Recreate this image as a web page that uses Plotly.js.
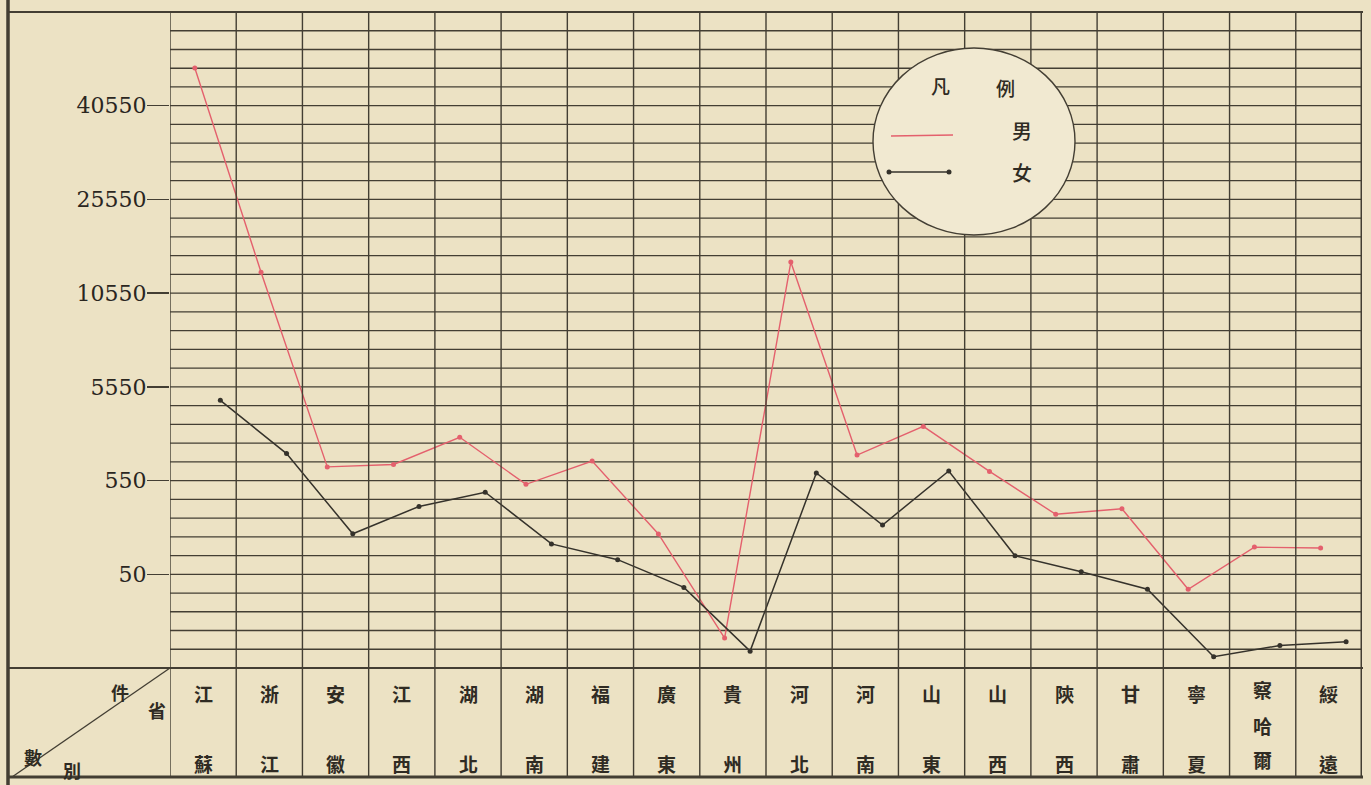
<!DOCTYPE html>
<html>
<head>
<meta charset="utf-8">
<script src="https://cdn.plot.ly/plotly-3.0.1.min.js"></script>
<style>
  html, body { margin: 0; padding: 0; background: #ece2c4; }
  #chart { width: 1371px; height: 785px; }
</style>
</head>
<body>
<div id="chart"></div>
<script>
// ---------------- data ----------------
const categories = ['江蘇','浙江','安徽','江西','湖北','湖南','福建','廣東','貴州','河北','河南','山東','山西','陝西','甘肅','寧夏','察哈爾','綏遠'];
const male   = [46600, 13900, 1280, 1410, 2860, 530, 1590, 265, 16, 15530, 1910, 3440, 1040, 370, 400, 42, 195, 190];
const female = [4830, 1990, 266, 412, 488, 212, 128, 43, 9, 960, 313, 1060, 149, 64, 42, 6, 12, 14];
const tickValues = [50, 550, 5550, 10550, 25550, 40550];
const tickLabels = ['50', '550', '5550', '10550', '25550', '40550'];
const legendTitle = ['凡', '例'];
const seriesNames = ['男', '女'];
const headerChars = ['件', '省', '數', '別'];

// ---------------- scale: each labelled interval spans 5 grid rows ----------------
const breaks = [0].concat(tickValues);
function toU(v) {
  for (let i = 0; i < breaks.length - 1; i++) {
    if (v <= breaks[i + 1]) return 5 * i + 5 * (v - breaks[i]) / (breaks[i + 1] - breaks[i]);
  }
  const n = breaks.length;
  const step = (breaks[n - 1] - breaks[n - 2]) / 5;
  return 5 * (n - 2) + 5 + (v - breaks[n - 1]) / step;
}
const U_MAX = 35;

// ---------------- geometry helpers (pixels -> paper) ----------------
const W = 1371, H = 785;
const PL = 170, PR = 1362, PT = 12, PB = 668;
const px = x => (x - PL) / (PR - PL);
const py = y => (PB - y) / (PB - PT);
const TABLE_BOTTOM = 777;

const ink = '#433e33';
const red = '#e4606d';
const dark = '#35322b';
const idx = categories.map((_, i) => i);

const traces = [
  {
    x: idx.map(i => i - 0.125),
    y: male.map(toU),
    customdata: male,
    name: seriesNames[0],
    mode: 'lines+markers',
    line: { color: red, width: 1.4 },
    marker: { color: red, size: 5 },
    hovertemplate: '%{customdata}<extra>男</extra>'
  },
  {
    x: idx.map(i => i + 0.26),
    y: female.map(toU),
    customdata: female,
    name: seriesNames[1],
    mode: 'lines+markers',
    line: { color: dark, width: 1.5 },
    marker: { color: dark, size: 5 },
    hovertemplate: '%{customdata}<extra>女</extra>'
  }
];

const shapes = [];
const L = (x0, y0, x1, y1, w, extra) => Object.assign({
  type: 'line', xref: 'paper', yref: 'paper',
  x0: px(x0), y0: py(y0), x1: px(x1), y1: py(y1),
  line: { color: ink, width: w }, layer: 'above'
}, extra || {});

// horizontal ruling: one line per grid row
for (let u = 1; u < U_MAX; u++) {
  shapes.push({
    type: 'line', xref: 'paper', yref: 'y',
    x0: 0, x1: 1, y0: u, y1: u,
    line: { color: ink, width: 1.3 }, layer: 'below'
  });
}
// column lines (through the plot and the table)
for (let i = 0; i <= categories.length; i++) {
  shapes.push({
    type: 'line', xref: 'x', yref: 'paper',
    x0: i - 0.5, x1: i - 0.5, y0: py(TABLE_BOTTOM), y1: 1,
    line: { color: ink, width: (i === categories.length) ? 3 : 1.4 },
    layer: 'above'
  });
}
// frame
shapes.push(L(8, PT, PR + 1, PT, 2));
shapes.push(L(8, 0, 8, H, 3.5));
shapes.push(L(8, PB, PR + 1, PB, 2.2));
shapes.push(L(8, TABLE_BOTTOM, PR + 1, TABLE_BOTTOM, 3.2));
shapes.push(L(12, TABLE_BOTTOM, PL, PB, 1.3));

// legend circle
shapes.push({
  type: 'circle', xref: 'paper', yref: 'paper',
  x0: px(873), x1: px(1075), y0: py(235), y1: py(48),
  fillcolor: '#f1e9d1', line: { color: ink, width: 1.4 }, layer: 'above'
});
shapes.push(L(891, 136, 953, 135, 1.4, { line: { color: red, width: 1.4 } }));
shapes.push(L(889, 172, 949, 172, 1.4, { line: { color: dark, width: 1.4 } }));
[889, 949].forEach(cx => shapes.push({
  type: 'circle', xref: 'paper', yref: 'paper',
  x0: px(cx - 2.5), x1: px(cx + 2.5), y0: py(172 + 2.5), y1: py(172 - 2.5),
  fillcolor: dark, line: { width: 0 }, layer: 'above'
}));

// ---------------- annotations ----------------
const cjk = '"Noto Sans CJK TC", "Noto Sans CJK SC", sans-serif';
const annotations = [];
const A = (text, x, y, size, weight) => annotations.push({
  text: text, xref: 'paper', yref: 'paper', x: px(x), y: py(y),
  xanchor: 'center', yanchor: 'middle', showarrow: false,
  font: { family: cjk, size: size, color: '#2f2b23', weight: weight || 700 }
});

categories.forEach((name, i) => {
  const chars = Array.from(name);
  const ys = chars.length === 3 ? [689, 725, 760] : [693, 763];
  chars.forEach((c, k) => {
    annotations.push({
      text: c, xref: 'x', yref: 'paper', x: i, y: py(ys[k]),
      xanchor: 'center', yanchor: 'middle', showarrow: false,
      font: { family: cjk, size: 19, color: '#2f2b23', weight: 700 }
    });
  });
});

A(headerChars[0], 120, 692, 18);
A(headerChars[1], 157, 710, 18);
A(headerChars[2], 33, 757, 18);
A(headerChars[3], 72, 770, 18);

A(legendTitle[0], 940, 85, 19, 500);
A(legendTitle[1], 1005, 87, 19, 500);
A(seriesNames[0], 1022, 130, 20, 500);
A(seriesNames[1], 1022, 172, 20, 500);

const layout = {
  width: W, height: H,
  margin: { l: PL, r: W - PR, t: PT, b: H - PB, pad: 0 },
  paper_bgcolor: '#ece2c4',
  plot_bgcolor: '#ece2c4',
  showlegend: false,
  xaxis: {
    range: [-0.5, categories.length - 0.5],
    showgrid: false, zeroline: false, showticklabels: false, ticks: '',
    fixedrange: true
  },
  yaxis: {
    range: [0, U_MAX],
    tickmode: 'array',
    tickvals: tickValues.map(toU),
    ticktext: tickLabels,
    ticks: 'outside', ticklen: 22, tickwidth: 1.3, tickcolor: ink,
    ticklabelstandoff: -4,
    tickfont: { family: '"DejaVu Serif", "Liberation Serif", serif', size: 22, color: '#2a261f' },
    showgrid: false,
    zeroline: false, showline: false,
    fixedrange: true
  },
  shapes: shapes,
  annotations: annotations
};

Plotly.newPlot('chart', traces, layout, { displayModeBar: false, staticPlot: true });
</script>
</body>
</html>
